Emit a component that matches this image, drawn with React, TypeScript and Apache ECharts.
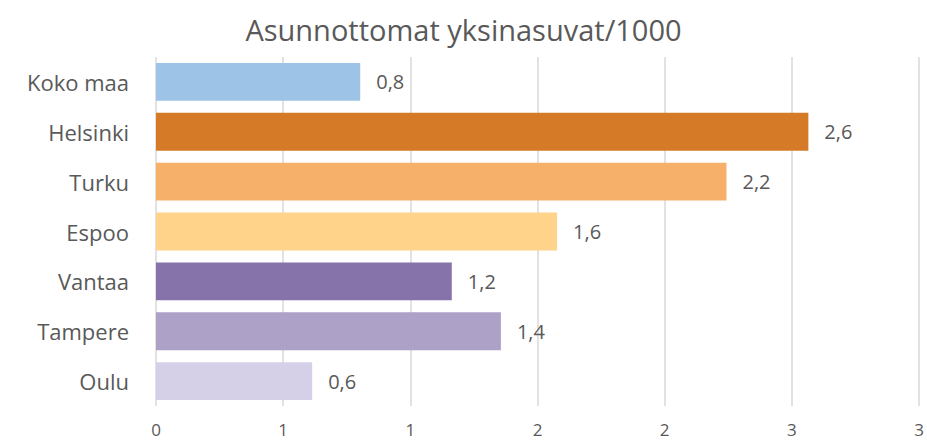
import React, { useEffect, useRef } from "react";
import * as echarts from "echarts";

const categories = ["Koko maa", "Helsinki", "Turku", "Espoo", "Vantaa", "Tampere", "Oulu"];
const values = [0.803, 2.565, 2.243, 1.577, 1.163, 1.356, 0.614];
const barColors = ["#9DC3E6", "#D57B27", "#F7B06A", "#FFD38A", "#8673A9", "#ADA1C8", "#D5D0E7"];
const titleText = "Asunnottomat yksinasuvat/1000";

export default function App() {
  const ref = useRef<HTMLDivElement>(null);
  useEffect(() => {
    document.body.style.margin = "0";
    if (!ref.current) return;
    const chart = echarts.init(ref.current, null, { renderer: "svg" });
    const font = "'Open Sans', sans-serif";
    chart.setOption({
      animation: false,
      backgroundColor: "#ffffff",
      title: {
        text: titleText,
        left: "center",
        top: 10,
        textStyle: { fontFamily: font, fontSize: 29, fontWeight: "normal", color: "#595959" },
      },
      grid: { left: 156, right: 8, top: 57, bottom: 35, containLabel: false },
      xAxis: {
        type: "value",
        min: 0,
        max: 3,
        interval: 0.5,
        axisLine: { show: false },
        axisTick: { show: false },
        splitLine: { show: true, lineStyle: { color: "#D9D9D9", width: 1.5 } },
        axisLabel: {
          margin: 15,
          fontFamily: font,
          fontSize: 17,
          lineHeight: 17,
          color: "#595959",
          formatter: (v: number) => String(Math.round(v)),
        },
      },
      yAxis: {
        type: "category",
        inverse: true,
        data: categories,
        axisLine: { show: false },
        axisTick: { show: false },
        axisLabel: { margin: 27, fontFamily: font, fontSize: 22, color: "#595959" },
      },
      series: [
        {
          type: "bar",
          barCategoryGap: "24%",
          data: values.map((v, i) => ({ value: v, itemStyle: { color: barColors[i] } })),
          label: {
            show: true,
            position: "right",
            distance: 16,
            fontFamily: font,
            fontSize: 20,
            color: "#595959",
            formatter: (p: any) => Number(p.value).toFixed(1).replace(".", ","),
          },
        },
      ],
    });
    return () => chart.dispose();
  }, []);
  return <div ref={ref} style={{ width: 927, height: 441 }} />;
}
